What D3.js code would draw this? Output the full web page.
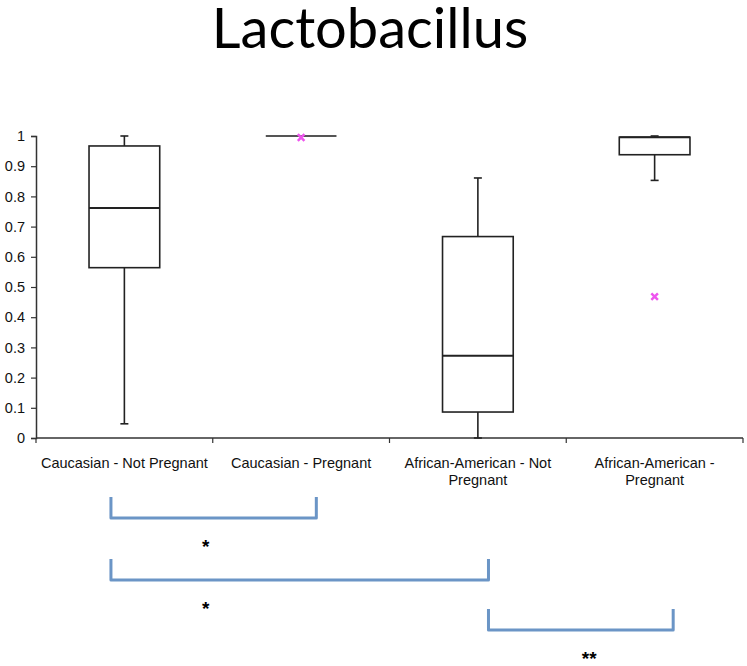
<!DOCTYPE html>
<html>
<head>
<meta charset="utf-8">
<script src="https://cdn.jsdelivr.net/npm/d3@7"></script>
<style>
  body { margin: 0; background: #fff; }
  svg text { font-family: "Liberation Sans", Arial, sans-serif; }
</style>
</head>
<body>
<div id="chart"></div>
<script>
"use strict";
//category labels (second line after the break)
var categories = [
  "Caucasian - Not Pregnant",
  "Caucasian - Pregnant",
  "African-American - Not|Pregnant",
  "African-American -|Pregnant"
];

//box plot values
var mins = [0.047, 1, 0, 0.853];
var q1 = [0.564, 1, 0.086, 0.938];
var medians = [0.762, 1, 0.272, 0.996];
var q3 = [0.967, 1, 0.667, 0.996];
var maxs = [1, 1, 0.861, 1];

//pink markers
var outliers = [
  { cat: 1, value: 0.995 },
  { cat: 3, value: 0.468 }
];

var yTicks = [0, 0.1, 0.2, 0.3, 0.4, 0.5, 0.6, 0.7, 0.8, 0.9, 1];

//significance brackets, ends given in category units
var brackets = [
  { from: 0.424, to: 1.586, labelAt: 0.96, label: "*" },
  { from: 0.424, to: 2.56, labelAt: 0.96, label: "*" },
  { from: 2.56, to: 3.605, labelAt: 3.13, label: "**" }
];

var w = 747,
  h = 666;
var plotLeft = 36,
  plotRight = 743,
  plotTop = 136,
  plotBottom = 438;

var svg = d3
  .select("#chart")
  .append("svg")
  .attr("width", w)
  .attr("height", h);

svg
  .append("text")
  .attr("x", 370)
  .attr("y", 48)
  .attr("text-anchor", "middle")
  .style("font-family", "Lato, 'Open Sans', sans-serif")
  .style("font-size", "56px")
  .text("Lactobacillus");

var x = d3
  .scaleBand()
  .domain(d3.range(categories.length))
  .range([plotLeft, plotRight])
  .padding(0);

var y = d3.scaleLinear().domain([0, 1]).range([plotBottom, plotTop]);

//category units -> pixels, used by brackets
var xc = d3
  .scaleLinear()
  .domain([0, categories.length])
  .range([plotLeft, plotRight]);

//y axis
var yAxis = svg
  .append("g")
  .attr("transform", "translate(" + plotLeft + ",0)")
  .call(d3.axisLeft(y).tickValues(yTicks).tickSize(5).tickPadding(6).tickFormat(d3.format("")));
yAxis.select(".domain").attr("stroke", "#333").attr("stroke-width", 1.5);
yAxis.selectAll(".tick line").attr("stroke", "#333").attr("stroke-width", 1.2);
yAxis.selectAll(".tick text").style("font-size", "14.5px").attr("fill", "#111");

//x axis with ticks at category boundaries
var xAxis = svg.append("g").attr("transform", "translate(0," + plotBottom + ")");
xAxis
  .append("line")
  .attr("x1", plotLeft)
  .attr("x2", plotRight)
  .attr("stroke", "#333")
  .attr("stroke-width", 1.5);
xAxis
  .selectAll(".xtick")
  .data(d3.range(categories.length + 1))
  .enter()
  .append("line")
  .attr("x1", function(d) { return xc(d); })
  .attr("x2", function(d) { return xc(d); })
  .attr("y1", 0)
  .attr("y2", 5)
  .attr("stroke", "#333")
  .attr("stroke-width", 1.2);

var labels = xAxis
  .selectAll(".xlabel")
  .data(categories)
  .enter()
  .append("text")
  .attr("text-anchor", "middle")
  .attr("fill", "#111")
  .style("font-size", "14.5px");
labels.each(function(d, i) {
  var parts = d.split("|");
  var t = d3.select(this);
  parts.forEach(function(p, j) {
    t.append("tspan")
      .attr("x", x(i) + x.bandwidth() / 2)
      .attr("y", 30 + j * 17)
      .text(p);
  });
});

//boxes
var bw = x.bandwidth() * 0.4;
var boxes = svg
  .append("g")
  .selectAll(".box")
  .data(categories)
  .enter()
  .append("g")
  .attr("transform", function(d, i) {
    return "translate(" + (x(i) + x.bandwidth() / 2) + ",0)";
  });

boxes.each(function(d, i) {
  var g = d3.select(this);
  var stroke = "#222";
  if (q3[i] - q1[i] < 0.001 && maxs[i] - mins[i] < 0.001) {
    //degenerate box, only a line
    g.append("line")
      .attr("x1", -bw / 2)
      .attr("x2", bw / 2)
      .attr("y1", y(medians[i]))
      .attr("y2", y(medians[i]))
      .attr("stroke", "#555")
      .attr("stroke-width", 2);
    return;
  }
  //whiskers
  g.append("line")
    .attr("x1", 0).attr("x2", 0)
    .attr("y1", y(maxs[i])).attr("y2", y(q3[i]))
    .attr("stroke", stroke).attr("stroke-width", 1.6);
  g.append("line")
    .attr("x1", 0).attr("x2", 0)
    .attr("y1", y(q1[i])).attr("y2", y(mins[i]))
    .attr("stroke", stroke).attr("stroke-width", 1.6);
  [maxs[i], mins[i]].forEach(function(v) {
    g.append("line")
      .attr("x1", -4).attr("x2", 4)
      .attr("y1", y(v)).attr("y2", y(v))
      .attr("stroke", stroke).attr("stroke-width", 1.6);
  });
  g.append("rect")
    .attr("x", -bw / 2)
    .attr("y", y(q3[i]))
    .attr("width", bw)
    .attr("height", y(q1[i]) - y(q3[i]))
    .attr("fill", "none")
    .attr("stroke", stroke)
    .attr("stroke-width", 1.6);
  g.append("line")
    .attr("x1", -bw / 2).attr("x2", bw / 2)
    .attr("y1", y(medians[i])).attr("y2", y(medians[i]))
    .attr("stroke", stroke).attr("stroke-width", 2);
});

//outlier markers
svg
  .append("g")
  .selectAll(".outlier")
  .data(outliers)
  .enter()
  .append("path")
  .attr("d", d3.symbol().type(d3.symbolX).size(30))
  .attr("transform", function(d) {
    return "translate(" + (x(d.cat) + x.bandwidth() / 2) + "," + y(d.value) + ")";
  })
  .attr("stroke", "#ee55ee")
  .attr("stroke-width", 2.5)
  .attr("fill", "none");

//significance brackets
var bracketY = [497, 559, 609];
var bracketH = 21;
var bg = svg.append("g");
brackets.forEach(function(b, i) {
  var x1 = xc(b.from),
    x2 = xc(b.to),
    y0 = bracketY[i];
  bg.append("path")
    .attr("d", "M" + x1 + "," + y0 + "L" + x1 + "," + (y0 + bracketH) + "L" + x2 + "," + (y0 + bracketH) + "L" + x2 + "," + y0)
    .attr("fill", "none")
    .attr("stroke", "#6b95c6")
    .attr("stroke-width", 3)
    .attr("stroke-linejoin", "round");
  bg.append("text")
    .attr("x", xc(b.labelAt))
    .attr("y", y0 + bracketH + 35)
    .attr("text-anchor", "middle")
    .style("font-size", "19px")
    .style("font-weight", "bold")
    .text(b.label);
});
</script>
</body>
</html>
